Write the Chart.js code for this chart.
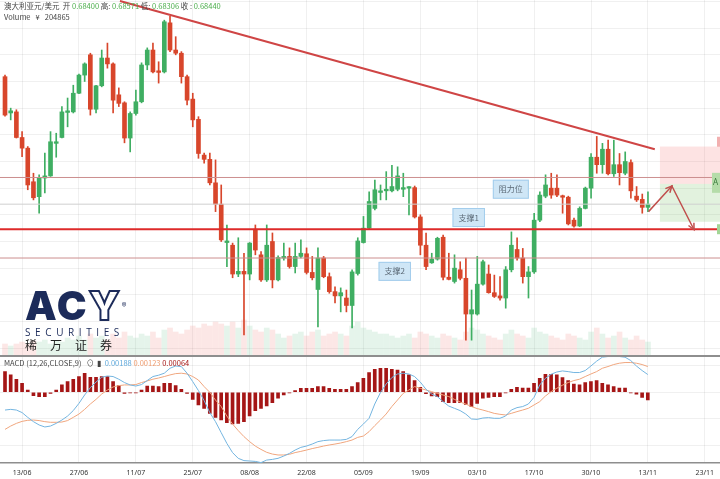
<!DOCTYPE html>
<html>
<head>
<meta charset="utf-8">
<script src="https://cdn.jsdelivr.net/npm/chart.js@4.4.1/dist/chart.umd.min.js"></script>
<style>
  html, body { margin: 0; padding: 0; background: #fff; width: 720px; height: 479px; overflow: hidden;
    font-family: "Noto Sans CJK SC", "Noto Sans", sans-serif; }
  #mainBox { position: absolute; left: 0; top: 0; width: 720px; height: 356px; }
  #macdBox { position: absolute; left: 0; top: 356px; width: 720px; height: 123px; }
  .sep { position: absolute; left: 0; top: 355px; width: 720px; height: 2px; background: #8e8e8e; }
  .txt { position: absolute; font-size: 7.5px; line-height: 10px; color: #444; white-space: nowrap; }
  .txt .g { color: #4cae4c; }
  .txt .b { color: #5fa9dc; }
  .txt .o { color: #ef9a6c; }
  .txt .r { color: #a51616; }
  #logo { position: absolute; left: 25px; top: 286px; color: #1c2b5a; }
  #logo .acy { font-family: Inter, "DejaVu Sans", sans-serif; font-weight: 900; font-size: 40px; line-height: 40px; letter-spacing: 2px; }
  #logo .acy .y { color: transparent; -webkit-text-stroke: 2px #1c2b5a; }
  #logo .acy sup { font-size: 7px; font-weight: 400; vertical-align: top; letter-spacing: 0; }
  #logo .sec { position: absolute; left: 0; top: 41px; font-family: "Open Sans", sans-serif; font-size: 10px; line-height: 11px; letter-spacing: 4.6px; }
  #logo .cn { position: absolute; left: 0; top: 52px; font-size: 12px; line-height: 13px; letter-spacing: 13px; color: #222; white-space: nowrap; }
</style>
</head>
<body>
<div id="mainBox"><canvas id="mainChart"></canvas></div>
<div id="macdBox"><canvas id="macdChart"></canvas></div>
<div class="sep"></div>

<div class="txt" style="left:4px; top:1px;">澳大利亚元/美元 &nbsp;开 <span class="g">0.68400</span> 高: <span class="g">0.68571</span> 低: <span class="g">0.68306</span> 收 : <span class="g">0.68440</span></div>
<div class="txt" style="left:4px; top:12px;">Volume &nbsp;&nbsp;¥ &nbsp;&nbsp;204865</div>
<div class="txt" style="left:4px; top:358px;">MACD (12,26,CLOSE,9) &nbsp;&nbsp;⊙ &nbsp;▮ &nbsp;<span class="b">0.00188</span> <span class="o">0.00123</span> <span class="r">0.00064</span></div>

<div id="logo">
  <div class="acy">AC<span class="y">Y</span><sup>®</sup></div>
  <div class="sec">SECURITIES</div>
  <div class="cn">稀万证券</div>
</div>

<script>
// x positions: one slot per trading day, label every 10 bars
const tickIdx = [3, 13, 23, 33, 43, 53, 63, 73, 83, 93, 103, 113, 123];
const tickLabels = ['13/06', '27/06', '11/07', '25/07', '08/08', '22/08', '05/09', '19/09', '03/10', '17/10', '30/10', '13/11', '23/11'];

// daily candles
const opens = [
  0.6759, 0.6691, 0.6693, 0.6645, 0.6625, 0.6562, 0.6534, 0.6569, 0.6573, 0.6634,
  0.6645, 0.6692, 0.6693, 0.6728, 0.6762, 0.6800, 0.6698, 0.6742, 0.6794, 0.6783,
  0.6725, 0.6710, 0.6644, 0.6690, 0.6712, 0.6781, 0.6809, 0.6770, 0.6768, 0.6860,
  0.6809, 0.6803, 0.6759, 0.6717, 0.6679, 0.6612, 0.6604, 0.6560, 0.6520, 0.6448,
  0.6443, 0.6389, 0.6394, 0.6389, 0.6473, 0.6425, 0.6378, 0.6450, 0.6378, 0.6419,
  0.6422, 0.6403, 0.6422, 0.6427, 0.6392, 0.6360, 0.6419, 0.6384, 0.6356, 0.6348,
  0.6344, 0.6330, 0.6390, 0.6448, 0.6475, 0.6512, 0.6542, 0.6545, 0.6545, 0.6548,
  0.6548, 0.6550, 0.6551, 0.6496, 0.6443, 0.6410, 0.6417, 0.6458, 0.6383, 0.6375,
  0.6397, 0.6381, 0.6314, 0.6314, 0.6370, 0.6389, 0.6354, 0.6348, 0.6344, 0.6397,
  0.6435, 0.6419, 0.6384, 0.6393, 0.6490, 0.6535, 0.6550, 0.6550, 0.6535, 0.6533,
  0.6490, 0.6479, 0.6512, 0.6550, 0.6608, 0.6594, 0.6623, 0.6577, 0.6594, 0.6578,
  0.6598, 0.6535, 0.6529, 0.6514
];
const highs = [
  0.6762, 0.6700, 0.6697, 0.6656, 0.6628, 0.6578, 0.6575, 0.6616, 0.6656, 0.6653,
  0.6703, 0.6719, 0.6743, 0.6764, 0.6785, 0.6803, 0.6743, 0.6809, 0.6822, 0.6785,
  0.6738, 0.6712, 0.6693, 0.6734, 0.6785, 0.6813, 0.6822, 0.6787, 0.6865, 0.6872,
  0.6834, 0.6806, 0.6762, 0.6728, 0.6684, 0.6616, 0.6616, 0.6603, 0.6556, 0.6481,
  0.6447, 0.6457, 0.6428, 0.6448, 0.6481, 0.6431, 0.6481, 0.6466, 0.6423, 0.6447,
  0.6438, 0.6447, 0.6453, 0.6438, 0.6422, 0.6438, 0.6422, 0.6391, 0.6365, 0.6363,
  0.6359, 0.6397, 0.6457, 0.6497, 0.6543, 0.6565, 0.6556, 0.6581, 0.6593, 0.6590,
  0.6578, 0.6553, 0.6554, 0.6500, 0.6466, 0.6428, 0.6458, 0.6462, 0.6428, 0.6425,
  0.6412, 0.6419, 0.6359, 0.6422, 0.6415, 0.6406, 0.6387, 0.6384, 0.6403, 0.6468,
  0.6457, 0.6437, 0.6403, 0.6503, 0.6543, 0.6575, 0.6578, 0.6575, 0.6537, 0.6535,
  0.6494, 0.6515, 0.6552, 0.6615, 0.6647, 0.6634, 0.6640, 0.6640, 0.6615, 0.6618,
  0.6603, 0.6553, 0.6539, 0.6543
];
const lows = [
  0.6685, 0.6678, 0.6644, 0.6609, 0.6547, 0.6528, 0.6503, 0.6541, 0.6572, 0.6608,
  0.6644, 0.6665, 0.6691, 0.6727, 0.6750, 0.6687, 0.6691, 0.6740, 0.6775, 0.6691,
  0.6703, 0.6635, 0.6618, 0.6687, 0.6710, 0.6772, 0.6766, 0.6747, 0.6766, 0.6806,
  0.6800, 0.6747, 0.6706, 0.6665, 0.6606, 0.6597, 0.6556, 0.6506, 0.6450, 0.6403,
  0.6382, 0.6384, 0.6275, 0.6378, 0.6425, 0.6375, 0.6375, 0.6363, 0.6376, 0.6415,
  0.6400, 0.6391, 0.6419, 0.6389, 0.6378, 0.6290, 0.6382, 0.6353, 0.6335, 0.6318,
  0.6318, 0.6288, 0.6387, 0.6447, 0.6472, 0.6509, 0.6528, 0.6528, 0.6543, 0.6545,
  0.6534, 0.6500, 0.6494, 0.6425, 0.6397, 0.6409, 0.6415, 0.6378, 0.6378, 0.6372,
  0.6378, 0.6265, 0.6265, 0.6312, 0.6368, 0.6353, 0.6345, 0.6340, 0.6325, 0.6393,
  0.6415, 0.6372, 0.6344, 0.6390, 0.6487, 0.6532, 0.6531, 0.6534, 0.6503, 0.6481,
  0.6477, 0.6478, 0.6511, 0.6531, 0.6578, 0.6578, 0.6575, 0.6572, 0.6556, 0.6575,
  0.6531, 0.6525, 0.6503, 0.6506
];
const closes = [
  0.6687, 0.6695, 0.6645, 0.6625, 0.6556, 0.6532, 0.6569, 0.6573, 0.6637, 0.6637,
  0.6693, 0.6695, 0.6728, 0.6762, 0.6783, 0.6698, 0.6742, 0.6794, 0.6783, 0.6715,
  0.6709, 0.6644, 0.6690, 0.6712, 0.6781, 0.6809, 0.6768, 0.6767, 0.6862, 0.6809,
  0.6803, 0.6759, 0.6715, 0.6678, 0.6615, 0.6604, 0.6560, 0.6520, 0.6453, 0.6451,
  0.6389, 0.6394, 0.6389, 0.6447, 0.6434, 0.6378, 0.6443, 0.6378, 0.6420, 0.6422,
  0.6403, 0.6422, 0.6428, 0.6392, 0.6382, 0.6419, 0.6384, 0.6356, 0.6348, 0.6354,
  0.6330, 0.6393, 0.6451, 0.6475, 0.6525, 0.6547, 0.6545, 0.6548, 0.6553, 0.6573,
  0.6551, 0.6552, 0.6496, 0.6443, 0.6403, 0.6417, 0.6456, 0.6383, 0.6379, 0.6400,
  0.6381, 0.6314, 0.6322, 0.6370, 0.6412, 0.6354, 0.6347, 0.6344, 0.6397, 0.6443,
  0.6419, 0.6384, 0.6393, 0.6490, 0.6537, 0.6556, 0.6537, 0.6537, 0.6533, 0.6483,
  0.6479, 0.6512, 0.6550, 0.6608, 0.6594, 0.6623, 0.6577, 0.6594, 0.6579, 0.6600,
  0.6545, 0.6528, 0.6514, 0.6520
];
const volumes = [
  60000, 50000, 60000, 70000, 60000, 75000, 70000, 80000, 60000, 75000,
  70000, 90000, 80000, 100000, 80000, 110000, 90000, 100000, 80000, 110000,
  90000, 120000, 100000, 90000, 110000, 100000, 120000, 90000, 130000, 140000,
  120000, 110000, 130000, 150000, 140000, 160000, 150000, 170000, 160000, 150000,
  170000, 140000, 180000, 150000, 130000, 120000, 140000, 130000, 110000, 90000,
  100000, 110000, 120000, 100000, 120000, 130000, 100000, 110000, 120000, 110000,
  100000, 150000, 170000, 140000, 130000, 120000, 110000, 110000, 100000, 90000,
  100000, 110000, 90000, 120000, 110000, 100000, 90000, 110000, 100000, 90000,
  80000, 120000, 140000, 130000, 110000, 100000, 90000, 80000, 110000, 130000,
  110000, 100000, 90000, 140000, 120000, 110000, 100000, 90000, 80000, 110000,
  100000, 90000, 80000, 120000, 140000, 110000, 90000, 100000, 120000, 90000,
  80000, 100000, 80000, 70000
];

// MACD (12,26,9)
const macdLine = [
  -0.00133, -0.00128, -0.00133, -0.00152, -0.00188, -0.00220, -0.00245, -0.00260, -0.00253, -0.00233,
  -0.00208, -0.00178, -0.00137, -0.00083, -0.00020, 0.00035, 0.00077, 0.00113, 0.00122, 0.00118,
  0.00098, 0.00073, 0.00055, 0.00047, 0.00058, 0.00088, 0.00118, 0.00128, 0.00143, 0.00180,
  0.00197, 0.00193, 0.00143, 0.00080, 0.00013, -0.00062, -0.00152, -0.00220, -0.00302, -0.00383,
  -0.00452, -0.00495, -0.00512, -0.00515, -0.00518, -0.00527, -0.00508, -0.00503, -0.00495, -0.00478,
  -0.00458, -0.00433, -0.00413, -0.00403, -0.00388, -0.00370, -0.00362, -0.00358, -0.00358, -0.00358,
  -0.00353, -0.00332, -0.00278, -0.00238, -0.00195, -0.00088, -0.00002, 0.00062, 0.00110, 0.00137,
  0.00143, 0.00137, 0.00118, 0.00077, 0.00023, -0.00013, -0.00032, -0.00070, -0.00103, -0.00120,
  -0.00137, -0.00163, -0.00200, -0.00203, -0.00193, -0.00190, -0.00195, -0.00195, -0.00178, -0.00133,
  -0.00115, -0.00107, -0.00088, -0.00038, 0.00055, 0.00105, 0.00135, 0.00152, 0.00160, 0.00155,
  0.00148, 0.00148, 0.00163, 0.00197, 0.00233, 0.00263, 0.00268, 0.00268, 0.00268, 0.00263,
  0.00238, 0.00197, 0.00163, 0.00133
];
const signalLine = [
  -0.00278, -0.00253, -0.00233, -0.00218, -0.00210, -0.00208, -0.00212, -0.00220, -0.00225, -0.00225,
  -0.00223, -0.00212, -0.00188, -0.00163, -0.00128, -0.00088, -0.00053, -0.00013, 0.00017, 0.00040,
  0.00050, 0.00055, 0.00055, 0.00058, 0.00073, 0.00085, 0.00098, 0.00107, 0.00118, 0.00130,
  0.00140, 0.00143, 0.00137, 0.00118, 0.00092, 0.00043, 0.00000, -0.00058, -0.00107, -0.00178,
  -0.00238, -0.00287, -0.00332, -0.00370, -0.00403, -0.00428, -0.00450, -0.00463, -0.00470, -0.00470,
  -0.00465, -0.00452, -0.00443, -0.00433, -0.00422, -0.00413, -0.00403, -0.00395, -0.00388, -0.00380,
  -0.00370, -0.00358, -0.00338, -0.00328, -0.00295, -0.00250, -0.00208, -0.00163, -0.00107, -0.00058,
  -0.00008, 0.00017, 0.00043, 0.00030, 0.00017, 0.00005, -0.00008, -0.00020, -0.00032, -0.00053,
  -0.00073, -0.00088, -0.00107, -0.00122, -0.00133, -0.00145, -0.00158, -0.00165, -0.00170, -0.00158,
  -0.00145, -0.00133, -0.00120, -0.00095, -0.00070, -0.00028, 0.00005, 0.00030, 0.00053, 0.00073,
  0.00088, 0.00098, 0.00118, 0.00137, 0.00155, 0.00180, 0.00193, 0.00208, 0.00218, 0.00223,
  0.00223, 0.00218, 0.00208, 0.00193
];
const macdHist = [
  0.00155, 0.00130, 0.00098, 0.00068, 0.00017, -0.00025, -0.00032, -0.00032, -0.00008, 0.00017,
  0.00055, 0.00080, 0.00098, 0.00118, 0.00143, 0.00113, 0.00113, 0.00118, 0.00118, 0.00080,
  0.00050, -0.00008, -0.00004, -0.00004, 0.00017, 0.00047, 0.00047, 0.00043, 0.00068, 0.00068,
  0.00050, 0.00023, -0.00008, -0.00053, -0.00095, -0.00120, -0.00158, -0.00188, -0.00208, -0.00227,
  -0.00238, -0.00233, -0.00220, -0.00178, -0.00137, -0.00120, -0.00103, -0.00077, -0.00045, -0.00020,
  -0.00004, 0.00013, 0.00030, 0.00030, 0.00030, 0.00043, 0.00043, 0.00030, 0.00023, 0.00023,
  0.00023, 0.00043, 0.00073, 0.00105, 0.00148, 0.00173, 0.00180, 0.00180, 0.00173, 0.00167,
  0.00155, 0.00130, 0.00088, 0.00038, -0.00011, -0.00028, -0.00032, -0.00070, -0.00077, -0.00077,
  -0.00077, -0.00090, -0.00107, -0.00083, -0.00045, -0.00038, -0.00032, -0.00032, -0.00004, 0.00023,
  0.00038, 0.00032, 0.00032, 0.00068, 0.00105, 0.00135, 0.00135, 0.00130, 0.00110, 0.00088,
  0.00062, 0.00055, 0.00073, 0.00080, 0.00088, 0.00068, 0.00055, 0.00043, 0.00032, 0.00032,
  -0.00004, -0.00015, -0.00038, -0.00058
];

// grid levels of the two panes
const priceGrid = [0.690, 0.685, 0.680, 0.675, 0.670, 0.665, 0.660, 0.655, 0.650, 0.645, 0.640, 0.635, 0.630, 0.625];
const macdGrid = [0.002, 0, -0.002, -0.004];

// hand-drawn analysis on the chart
const resistLevel = 0.6570;
const lastLevel = 0.6520;
const supportLevel = 0.6473;
const support2Level = 0.6419;
const trendX = [20.2, 114.2];
const trendP = [0.6901, 0.6623];
const arrowX = [113.1, 117.2, 121.1];
const arrowP = [0.6506, 0.6554, 0.6472];
const zoneX = [115.1, 126];
const sellZone = [0.6628, 0.6558];
const buyZone = [0.6558, 0.6487];
const noteText = ['阻力位', '支撑1', '支撑2'];
const noteX = [88.9, 81.5, 68.5];
const noteP = [0.6548, 0.6495, 0.6394];
const tagP = [0.6637, 0.6560, 0.6473];

const X_MIN = -0.88, X_MAX = 125.66;
const P_MIN = 0.62353, P_MAX = 0.69028;

const UP = '#3fae62';
const DOWN = '#d8462b';
const idx = closes.map((_, i) => i);
const candleColor = idx.map(i => closes[i] >= opens[i] ? UP : DOWN);
const volColor = idx.map(i => closes[i] >= opens[i] ? 'rgba(70,180,110,0.14)' : 'rgba(235,95,85,0.15)');

function hLine(p, color, width) {
  return {
    type: 'line', data: [{ x: X_MIN, y: p }, { x: X_MAX, y: p }],
    borderColor: color, borderWidth: width, pointRadius: 0, order: 2,
  };
}

function xAxis(showLabels) {
  return {
    type: 'linear', min: X_MIN, max: X_MAX, offset: false,
    afterBuildTicks: (axis) => { axis.ticks = tickIdx.map(v => ({ value: v })); },
    afterFit: (axis) => { axis.height = showLabels ? 16 : 0; },
    grid: { color: 'rgba(0,0,0,0.06)', drawTicks: false, offset: false },
    border: showLabels ? { display: true, color: '#8e8e8e', width: 1.5 } : { display: false },
    ticks: {
      display: showLabels, padding: 6, color: '#333', maxRotation: 0, autoSkip: false,
      font: { size: 7, family: 'Noto Sans' },
      callback: (v, i) => tickLabels[i],
    },
  };
}

function yAxis(min, max, grid) {
  return {
    type: 'linear', position: 'right', min, max,
    afterBuildTicks: (axis) => { axis.ticks = grid.map(v => ({ value: v })); },
    afterFit: (axis) => { axis.width = 0; },
    grid: { color: 'rgba(0,0,0,0.06)', drawTicks: false },
    border: { display: false },
    ticks: { display: false },
  };
}

function arrowHead(ctx, x0, y0, x1, y1) {
  const a = Math.atan2(y1 - y0, x1 - x0);
  const len = 7, w = 0.45;
  ctx.beginPath();
  ctx.moveTo(x1 - len * Math.cos(a - w), y1 - len * Math.sin(a - w));
  ctx.lineTo(x1, y1);
  ctx.lineTo(x1 - len * Math.cos(a + w), y1 - len * Math.sin(a + w));
  ctx.stroke();
}

const mainDecor = {
  id: 'mainDecor',
  beforeDatasetsDraw(chart) {
    const { ctx, scales: { x, y } } = chart;
    const x0 = x.getPixelForValue(zoneX[0]), x1 = x.getPixelForValue(zoneX[1]);
    ctx.save();
    ctx.fillStyle = 'rgba(244,90,90,0.17)';
    ctx.fillRect(x0, y.getPixelForValue(sellZone[0]), x1 - x0, y.getPixelForValue(sellZone[1]) - y.getPixelForValue(sellZone[0]));
    ctx.fillStyle = 'rgba(110,190,90,0.2)';
    ctx.fillRect(x0, y.getPixelForValue(buyZone[0]), x1 - x0, y.getPixelForValue(buyZone[1]) - y.getPixelForValue(buyZone[0]));
    ctx.restore();
  },
  afterDatasetsDraw(chart) {
    const { ctx, scales: { x, y } } = chart;
    ctx.save();
    // arrow heads of the projected path
    const px = arrowX.map(v => x.getPixelForValue(v));
    const py = arrowP.map(v => y.getPixelForValue(v));
    ctx.strokeStyle = '#c0504d';
    ctx.lineWidth = 1.5;
    arrowHead(ctx, px[0], py[0], px[1], py[1]);
    arrowHead(ctx, px[1], py[1], px[2], py[2]);

    // note boxes
    ctx.font = '8px "Noto Sans CJK SC"';
    ctx.textAlign = 'center';
    ctx.textBaseline = 'middle';
    noteText.forEach((t, i) => {
      const cx = x.getPixelForValue(noteX[i]), cy = y.getPixelForValue(noteP[i]);
      const w = ctx.measureText(t).width + 12, h = 19;
      ctx.fillStyle = '#cfe6f6';
      ctx.strokeStyle = '#a3cdec';
      ctx.lineWidth = 1;
      ctx.fillRect(cx - w / 2, cy - h / 2, w, h);
      ctx.strokeRect(cx - w / 2 + 0.5, cy - h / 2 + 0.5, w - 1, h - 1);
      ctx.fillStyle = '#5d6b78';
      ctx.fillText(t, cx, cy);
    });

    // price tags cut by the right edge
    const right = chart.chartArea.right;
    const t0 = y.getPixelForValue(tagP[0]);
    ctx.fillStyle = '#f2b0b0';
    ctx.fillRect(right - 3, t0 - 5, 3, 10);
    const t1 = y.getPixelForValue(tagP[1]);
    ctx.fillStyle = '#b5dca9';
    ctx.fillRect(right - 8, t1 - 10, 8, 20);
    ctx.fillStyle = '#3c7a3c';
    ctx.textAlign = 'left';
    ctx.font = '8px "Noto Sans"';
    ctx.fillText('A', right - 7, t1);
    const t2 = y.getPixelForValue(tagP[2]);
    ctx.fillStyle = '#a3d596';
    ctx.fillRect(right - 3, t2 - 5, 3, 10);
    ctx.restore();
  },
};

new Chart(document.getElementById('mainChart'), {
  type: 'bar',
  data: {
    datasets: [
      { yAxisID: 'yv', data: idx.map(i => ({ x: i, y: volumes[i] })), backgroundColor: volColor, barThickness: 5, order: 10 },
      { data: idx.map(i => ({ x: i, y: [lows[i], highs[i]] })), backgroundColor: candleColor, barThickness: 1, order: 5 },
      { data: idx.map(i => ({ x: i, y: [Math.min(opens[i], closes[i]), Math.max(opens[i], closes[i])] })),
        backgroundColor: candleColor, barThickness: 4, minBarLength: 1.5, order: 4 },
      hLine(lastLevel, '#cfcfcf', 1),
      hLine(resistLevel, '#cc8f8f', 1),
      hLine(support2Level, '#cc8f8f', 1),
      hLine(supportLevel, '#de2a2a', 2),
      { type: 'line', data: trendX.map((v, i) => ({ x: v, y: trendP[i] })),
        borderColor: '#cf4545', borderWidth: 2, pointRadius: 0, order: 1 },
      { type: 'line', data: arrowX.map((v, i) => ({ x: v, y: arrowP[i] })),
        borderColor: '#c0504d', borderWidth: 1.5, pointRadius: 0, order: 0 },
    ],
  },
  options: {
    responsive: true, maintainAspectRatio: false, animation: false, events: [],
    layout: { padding: 0 },
    datasets: { bar: { grouped: false } },
    plugins: { legend: { display: false }, tooltip: { enabled: false } },
    scales: {
      x: xAxis(false),
      y: yAxis(P_MIN, P_MAX, priceGrid),
      yv: { type: 'linear', display: false, min: 0, max: 1780000 },
    },
  },
  plugins: [mainDecor],
});

new Chart(document.getElementById('macdChart'), {
  type: 'bar',
  data: {
    datasets: [
      { data: idx.map(i => ({ x: i, y: macdHist[i] })), backgroundColor: '#a51616', barThickness: 3, order: 3 },
      { type: 'line', data: idx.map(i => ({ x: i, y: macdLine[i] })), borderColor: '#74b5e0', borderWidth: 1, pointRadius: 0, order: 1 },
      { type: 'line', data: idx.map(i => ({ x: i, y: signalLine[i] })), borderColor: '#f0a67e', borderWidth: 1, pointRadius: 0, order: 2 },
    ],
  },
  options: {
    responsive: true, maintainAspectRatio: false, animation: false, events: [],
    layout: { padding: 0 },
    datasets: { bar: { grouped: false } },
    plugins: { legend: { display: false }, tooltip: { enabled: false } },
    scales: {
      x: xAxis(true),
      y: yAxis(-0.0053, 0.00272, macdGrid),
    },
  },
});
</script>
</body>
</html>
